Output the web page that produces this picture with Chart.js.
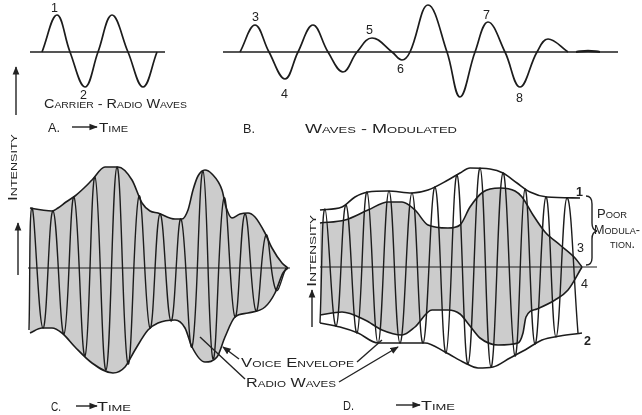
<!DOCTYPE html>
<html><head><meta charset="utf-8">
<script src="https://cdn.jsdelivr.net/npm/chart.js@4"></script>
<style>
html,body{margin:0;padding:0;background:#fff;width:642px;height:415px;overflow:hidden}
canvas{position:absolute}
#ov{position:absolute;left:0;top:0}
#ov text{font-family:"Liberation Sans","DejaVu Sans",sans-serif;fill:#222;font-variant:small-caps}
</style></head><body>
<canvas id="cA" width="160" height="110" style="left:20px;top:0px"></canvas>
<canvas id="cB" width="410" height="110" style="left:220px;top:0px"></canvas>
<canvas id="cC" width="280" height="240" style="left:20px;top:150px"></canvas>
<canvas id="cD" width="300" height="240" style="left:310px;top:150px"></canvas>
<svg id="ov" width="642" height="415" xmlns="http://www.w3.org/2000/svg">
<defs>
<marker id="ah" viewBox="0 0 10 10" refX="9" refY="5" markerWidth="6" markerHeight="6" orient="auto-start-reverse"><path d="M0,1 L10,5 L0,9 z" fill="#222"/></marker>
</defs>
<g stroke="#222" stroke-width="1.4" fill="none">
<line x1="16" y1="115" x2="16" y2="67" marker-end="url(#ah)"/>
<line x1="18" y1="275" x2="18" y2="223" marker-end="url(#ah)"/>
<line x1="312" y1="327" x2="312" y2="290" marker-end="url(#ah)"/>
<line x1="72" y1="127" x2="97" y2="127" marker-end="url(#ah)"/>
<line x1="76" y1="406" x2="97" y2="406" marker-end="url(#ah)"/>
<line x1="396" y1="405" x2="420" y2="405" marker-end="url(#ah)"/>
<line x1="239" y1="359" x2="223" y2="347" marker-end="url(#ah)"/>
<line x1="245" y1="379" x2="200" y2="337"/>
<line x1="357" y1="362" x2="382" y2="340"/>
<line x1="339" y1="382" x2="398" y2="347" marker-end="url(#ah)"/>
<path d="M586 196 Q592 196 592 204 L592 223 Q592 230 597 231 Q592 232 592 239 L592 258 Q592 265 586 265"/>
</g>
<g font-size="12.5">
<text x="51" y="12">1</text>
<text x="80" y="99">2</text>
<text x="44" y="108" textLength="143" lengthAdjust="spacingAndGlyphs">Carrier - Radio Waves</text>
<text x="48" y="132" textLength="12" lengthAdjust="spacingAndGlyphs">A.</text>
<text x="99" y="132" textLength="29" lengthAdjust="spacingAndGlyphs">Time</text>
<text x="252" y="21">3</text>
<text x="281" y="98">4</text>
<text x="366" y="34">5</text>
<text x="397" y="73">6</text>
<text x="483" y="19">7</text>
<text x="516" y="102">8</text>
<text x="243" y="133" textLength="12" lengthAdjust="spacingAndGlyphs">B.</text>
<text x="305" y="133" textLength="152" lengthAdjust="spacingAndGlyphs">Waves - Modulated</text>
<text transform="translate(17,201) rotate(-90)" textLength="67" lengthAdjust="spacingAndGlyphs">Intensity</text>
<text transform="translate(316,287) rotate(-90)" textLength="72" lengthAdjust="spacingAndGlyphs">Intensity</text>
<text x="51" y="411" textLength="10" lengthAdjust="spacingAndGlyphs">C.</text>
<text x="97" y="411" textLength="34" lengthAdjust="spacingAndGlyphs">Time</text>
<text x="241" y="367" textLength="113" lengthAdjust="spacingAndGlyphs">Voice Envelope</text>
<text x="246" y="387" textLength="90" lengthAdjust="spacingAndGlyphs">Radio Waves</text>
<text x="343" y="410" textLength="11" lengthAdjust="spacingAndGlyphs">D.</text>
<text x="421" y="410" textLength="34" lengthAdjust="spacingAndGlyphs">Time</text>
<text x="576" y="196" font-weight="bold">1</text>
<text x="584" y="345" font-weight="bold">2</text>
<text x="577" y="252">3</text>
<text x="581" y="288">4</text>
<text x="597" y="218" textLength="30" lengthAdjust="spacingAndGlyphs">Poor</text>
<text x="594" y="234" textLength="46" lengthAdjust="spacingAndGlyphs">Modula-</text>
<text x="610" y="248" textLength="25" lengthAdjust="spacingAndGlyphs">tion.</text>
</g>
</svg>
<script>
// ---------- Panel A: carrier (time, intensity) ----------
const carrierT = [22, 37, 50, 65, 78, 92, 108, 123, 137];
const carrierI = [0, 37, 0, -35, 0, 37, 0, -35, 0];
const baseA_T = [10, 145];

// ---------- Panel B: modulated waves ----------
const modT = [20, 35, 49, 65, 78, 93, 108, 123, 137, 152, 172, 182, 190, 208, 227, 240, 255, 268, 285, 300, 317, 328, 348];
const modI = [0, 27, 0, -27, 0, 27, 0, -20, 0, 14, 0, -8, 0, 47, 0, -45, 0, 30, 0, -35, 0, 13, 0];
const tailT = [356, 368, 380];
const tailI = [0, 1.2, 0];
const baseB_T = [3, 398];

// ---------- Panel C: voice envelope + radio waves ----------
const envCupT = [10, 22, 32, 38, 46, 55, 64, 72, 85, 98, 112, 122, 130, 138, 155, 162, 168, 173, 178, 185, 192, 202, 206, 212, 220, 228, 235, 245, 252, 262, 268];
const envCupI = [60, 58, 57, 60, 66, 72, 80, 88, 101, 101, 88, 65, 57, 55, 49, 49, 58, 78, 92, 98, 94, 78, 61, 50, 54, 55, 51, 35, 20, 5, 0];
const envClowT = [10, 22, 32, 42, 55, 72, 93, 105, 115, 128, 138, 155, 165, 172, 185, 197, 205, 215, 228, 245, 255, 263, 268];
const envClowI = [-65, -60, -60, -65, -79, -95, -105, -99, -82, -62, -55, -52, -60, -79, -94, -89, -69, -49, -45, -39, -25, -5, 0];
const waveCT = [9, 12, 23, 33, 44, 54, 65, 75, 86, 97, 108, 119, 130, 140, 151, 161, 172, 183, 193, 204, 215, 225, 236, 246, 256, 266];
const waveCI = [-62, 60, -60, 57, -66, 71, -88, 91, -102, 101, -96, 72, -60, 54, -53, 49, -79, 97, -91, 70, -49, 54, -43, 33, -22, 0];
const baseC_T = [8, 270];

// ---------- Panel D: poor modulation ----------
const outDupT = [10, 32, 45, 58, 78, 102, 118, 138, 150, 160, 180, 193, 207, 220, 237, 270];
const outDupI = [57, 60, 70, 75, 76, 74, 77, 87, 94, 99, 98, 94, 84, 75, 70, 69];
const outDlowT = [10, 30, 48, 68, 90, 115, 135, 155, 168, 183, 200, 215, 232, 250, 272];
const outDlowI = [-56, -60, -66, -76, -76, -76, -85, -96, -101, -100, -91, -83, -73, -69, -66];
const envDupT = [10, 35, 58, 78, 92, 105, 118, 138, 150, 160, 173, 190, 205, 212, 223, 235, 250, 265, 272];
const envDupI = [44, 47, 57, 65, 65, 57, 42, 39, 42, 60, 75, 79, 76, 70, 52, 35, 22, 9, 0];
const envDlowT = [10, 32, 55, 72, 92, 105, 122, 138, 150, 160, 170, 188, 208, 213, 216, 227, 245, 258, 272];
const envDlowI = [-48, -45, -53, -63, -68, -60, -43, -43, -47, -59, -71, -78, -76, -66, -50, -42, -33, -23, 0];
const waveDT = [10, 15, 26, 36, 47, 57, 68, 79, 90, 102, 113, 125, 136, 147, 158, 170, 181, 193, 205, 215, 225, 236, 246, 257, 268];
const waveDI = [-56, 58, -59, 62, -66, 75, -76, 76, -76, 74, -76, 80, -86, 92, -97, 99, -100, 94, -89, 78, -77, 70, -70, 69, -66];
const baseD_T = [10, 287];

const INK = '#1c1c1c';
const SHADE = '#cccccc';

function pts(t, v) { return t.map((x, i) => ({ x: x, y: v[i] })); }
function zero(t) { return t.map(() => 0); }

function line(t, v, extra) {
  return Object.assign({ data: pts(t, v), borderColor: INK, borderWidth: 1.5, pointRadius: 0, fill: false, tension: 0, clip: false }, extra || {});
}

function make(id, xmax, ymin, ymax, datasets) {
  new Chart(document.getElementById(id), {
    type: 'line',
    data: { datasets: datasets },
    options: {
      responsive: false, animation: false,
      layout: { padding: 0 },
      scales: {
        x: { type: 'linear', min: 0, max: xmax, display: false },
        y: { type: 'linear', min: ymin, max: ymax, display: false }
      },
      plugins: { legend: { display: false }, tooltip: { enabled: false }, filler: { drawTime: 'beforeDatasetsDraw' } },
      elements: { point: { radius: 0 } }
    }
  });
}

make('cA', 160, -58, 52, [
  line(carrierT, carrierI, { tension: 0.4, borderWidth: 1.7 }),
  line(baseA_T, zero(baseA_T), { borderWidth: 1.4 })
]);

make('cB', 410, -58, 52, [
  line(modT, modI, { tension: 0.4, borderWidth: 1.7 }),
  line(tailT, tailI, { tension: 0.4, borderWidth: 2.2 }),
  line(baseB_T, zero(baseB_T), { borderWidth: 1.3 })
]);

make('cC', 280, -122, 118, [
  line(waveCT, waveCI, { tension: 0.42, borderWidth: 1.4 }),
  line(envCupT, envCupI, { cubicInterpolationMode: 'monotone', fill: 'origin', backgroundColor: SHADE, borderWidth: 1.6 }),
  line(envClowT, envClowI, { cubicInterpolationMode: 'monotone', fill: 'origin', backgroundColor: SHADE, borderWidth: 1.6 }),
  line(baseC_T, zero(baseC_T), { borderWidth: 1.2 })
]);

make('cD', 300, -123, 117, [
  line(waveDT, waveDI, { tension: 0.42, borderWidth: 1.4 }),
  line(outDupT, outDupI, { cubicInterpolationMode: 'monotone', borderWidth: 1.6 }),
  line(outDlowT, outDlowI, { cubicInterpolationMode: 'monotone', borderWidth: 1.6 }),
  line(envDupT, envDupI, { cubicInterpolationMode: 'monotone', fill: 'origin', backgroundColor: SHADE, borderWidth: 1.6 }),
  line(envDlowT, envDlowI, { cubicInterpolationMode: 'monotone', fill: 'origin', backgroundColor: SHADE, borderWidth: 1.6 }),
  line(baseD_T, zero(baseD_T), { borderWidth: 1.2 })
]);
</script>
</body></html>
